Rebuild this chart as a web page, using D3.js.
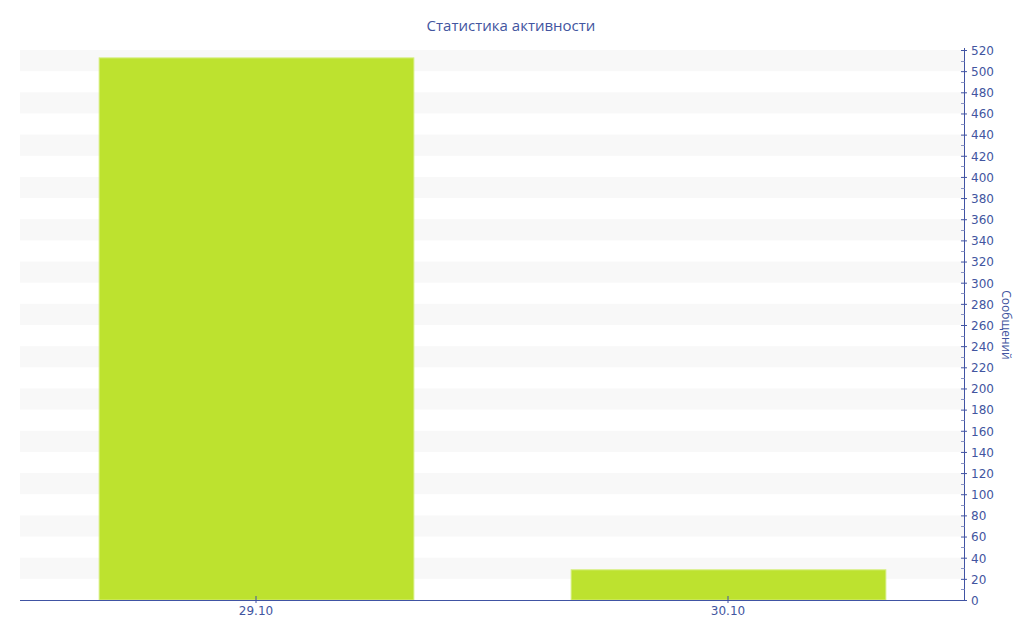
<!DOCTYPE html>
<html><head><meta charset="utf-8">
<script src="https://cdn.jsdelivr.net/npm/d3@7"></script>
<style>body{margin:0;background:#fff}svg{display:block}</style>
</head><body>
<svg id="c" width="1024" height="640"></svg>
<script>
const categories = ["29.10", "30.10"];
const values = [513, 29];
const yTicks = d3.range(0, 521, 20);
const title = "Статистика активности";
const yTitle = "Сообщений";

const W = 1024, H = 640;
const m = {left: 20, right: 60, top: 50, bottom: 40};
const svg = d3.select("#c");
const textColor = "#4255a0", axisColor = "#4053a3";

const x = d3.scaleBand().domain(categories).range([m.left, W - m.right]).paddingInner(1/3).paddingOuter(1/6);
const y = d3.scaleLinear().domain([0, 520]).range([H - m.bottom, m.top]);

// stripes
const stripes = d3.range(20, 520, 40);
svg.append("g").selectAll("rect").data(stripes).join("rect")
  .attr("x", m.left).attr("width", W - m.right - m.left)
  .attr("y", d => y(d + 20)).attr("height", d => y(d) - y(d + 20))
  .attr("fill", "#f8f8f8");

// bars
svg.append("g").selectAll("rect").data(values).join("rect")
  .attr("x", (d, i) => x(categories[i]) + 0.5)
  .attr("width", x.bandwidth())
  .attr("y", d => y(d) + 0.5)
  .attr("height", d => y(0) - y(d) - 0.5)
  .attr("fill", "#bde22f").attr("stroke", "#d4ee7a").attr("stroke-width", 1);

// right axis
const ya = svg.append("g").attr("transform", `translate(${W - m.right},0)`)
  .call(d3.axisRight(y).tickValues(yTicks).tickSize(3).tickPadding(4));
ya.select(".domain").attr("stroke", axisColor).attr("d", `M0.5,${y(0)}V${y(520)-2}`);
ya.selectAll(".tick line").attr("stroke", axisColor).attr("x1", -3).attr("x2", 3);
ya.selectAll(".tick text").attr("fill", textColor).attr("dy", "0.36em").style("font", "12px Verdana, 'DejaVu Sans', sans-serif");
// minor ticks
ya.append("g").selectAll("line").data(d3.range(10, 520, 20)).join("line")
  .attr("x1", -3).attr("x2", 0.5).attr("y1", d => Math.round(y(d)) + 0.5).attr("y2", d => Math.round(y(d)) + 0.5)
  .attr("stroke", "#8a94c4");

// bottom axis
const xa = svg.append("g").attr("transform", `translate(0,${H - m.bottom})`)
  .call(d3.axisBottom(x).tickSize(3).tickPadding(3));
xa.select(".domain").attr("stroke", axisColor).attr("d", `M${m.left},0.5H${W - m.right}`);
xa.selectAll(".tick line").attr("stroke", axisColor).attr("y1", -4).attr("y2", 3);
xa.selectAll(".tick text").attr("fill", textColor).style("font", "12px Verdana, 'DejaVu Sans', sans-serif");

// title
svg.append("text").attr("x", 511).attr("y", 31).attr("text-anchor", "middle")
  .attr("fill", textColor).style("font", "15px 'Open Sans', 'Noto Sans', sans-serif").text(title);
// y title
svg.append("text").attr("transform", `translate(1002,${y(260)}) rotate(90)`).attr("text-anchor", "middle")
  .attr("fill", textColor).style("font", "12px 'Open Sans', 'Noto Sans', sans-serif").text(yTitle);
</script>
</body></html>
